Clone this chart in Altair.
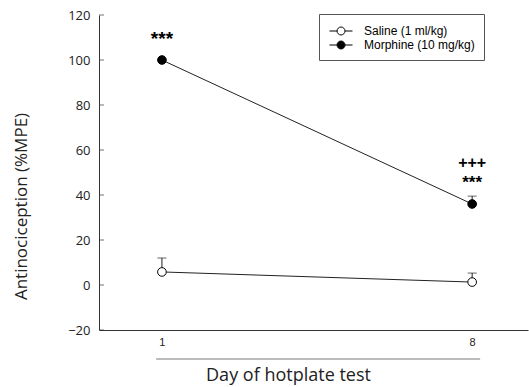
import altair as alt
import pandas as pd

days = [1, 8]
series = ["Saline (1 ml/kg)", "Morphine (10 mg/kg)"]
saline_mean = [5.8, 1.3]
saline_err = [6.2, 4.0]
morphine_mean = [100.0, 36.0]
morphine_err = [0.0, 3.5]
y_ticks = [-20, 0, 20, 40, 60, 80, 100, 120]

ann_day = [1, 8, 8]
ann_base = [100.0, 39.5, 39.5]
ann_text = ["***", "***", "+++"]

rows = []
for d, m, e in zip(days, saline_mean, saline_err):
    rows.append({"day": d, "series": series[0], "mean": m, "top": m + e})
for d, m, e in zip(days, morphine_mean, morphine_err):
    rows.append({"day": d, "series": series[1], "mean": m, "top": m + e})
df = pd.DataFrame(rows)
err_df = df[df["top"] > df["mean"]]

ann = pd.DataFrame({"day": ann_day, "base": ann_base, "text": ann_text})
ticks_df = pd.DataFrame({"v": y_ticks})

W, H = 429, 315
xs = alt.Scale(domain=[-0.42, 9.26], nice=False, zero=False)
ys = alt.Scale(domain=[-20, 120], nice=False, zero=False)

x_enc = alt.X("day:Q", scale=xs, axis=alt.Axis(
    values=days, ticks=False, grid=False, format="d",
    labelFont="Liberation Sans", labelFontSize=11, labelColor="#222",
    labelPadding=6, domainColor="#333", title="Day of hotplate test",
    titleFont="Open Sans", titleFontSize=18, titleFontWeight="normal", titleColor="#222",
    titleX=189, titleY=45, titleBaseline="middle", titleAlign="center"))
y_enc = alt.Y("mean:Q", scale=ys, axis=alt.Axis(
    values=y_ticks, ticks=False, grid=False,
    labelFont="Open Sans", labelFontSize=13, labelColor="#222", labelPadding=9,
    domainColor="#333", title="Antinociception (%MPE)",
    titleFont="Open Sans", titleFontSize=17, titleFontWeight="normal", titleColor="#222",
    titleAngle=270, titleX=-78, titleY=191, titleBaseline="middle", titleAlign="center"))

base = alt.Chart(df)

lines = base.mark_line(color="#222", strokeWidth=1).encode(
    x=x_enc, y=y_enc, detail="series:N")

err_rule = alt.Chart(err_df).mark_rule(color="#222", strokeWidth=1).encode(
    x=alt.X("day:Q", scale=xs), y=alt.Y("mean:Q", scale=ys), y2="top:Q")
err_cap = alt.Chart(err_df).mark_tick(color="#222", orient="horizontal", size=9, thickness=1).encode(
    x=alt.X("day:Q", scale=xs), y=alt.Y("top:Q", scale=ys))

leg_path = ("M-0.87,0H0.14M1.2,0H2.2"
            "M1.2,0A0.53,0.53 0 1,1 0.14,0A0.53,0.53 0 1,1 1.2,0Z")
points = base.mark_point(shape="circle", size=75, stroke="#000", strokeWidth=1, opacity=1, filled=False).encode(
    x=alt.X("day:Q", scale=xs), y=alt.Y("mean:Q", scale=ys),
    fill=alt.Fill("series:N", scale=alt.Scale(domain=series, range=["#ffffff", "#000000"]),
                  legend=alt.Legend(title=None, orient="none", legendX=220, legendY=-1,
                                    symbolType=leg_path, symbolSize=225, symbolStrokeColor="#000",
                                    symbolStrokeWidth=1, symbolOpacity=1,
                                    labelFont="Liberation Sans", labelFontSize=12, labelColor="#000",
                                    labelOffset=20, rowPadding=0, padding=9,
                                    strokeColor="#555", fillColor="#ffffff")))

def ann_layer(i, size, dy):
    return alt.Chart(ann.iloc[[i]]).mark_text(
        font="Liberation Sans", fontSize=size, fontWeight="bold", color="#000",
        baseline="middle", dy=dy
    ).encode(x=alt.X("day:Q", scale=xs), y=alt.Y("base:Q", scale=ys), text="text:N")

stars1 = ann_layer(0, 19, -21)
stars8 = ann_layer(1, 17, -13)
plus8 = ann_layer(2, 16, -33)

ytick = alt.Chart(ticks_df).mark_tick(color="#333", orient="horizontal", size=5, thickness=1).encode(
    x=alt.value(2.5), y=alt.Y("v:Q", scale=ys))

underline = alt.Chart(pd.DataFrame({"a": [0]})).mark_rule(color="#777", strokeWidth=1, clip=False).encode(
    x=alt.datum(days[0] - 0.13, scale=xs), x2=alt.datum(days[-1] + 0.18), y=alt.value(H + 29))

chart = alt.layer(lines, err_rule, err_cap, points, stars1, stars8, plus8, ytick, underline).properties(
    width=W, height=H,
    autosize=alt.AutoSizeParams(type="none"),
    padding={"left": 99, "top": 15, "right": 1, "bottom": 57},
).configure_view(stroke=None).configure_axis(domainWidth=1)

chart.save("out.html", embed_options={"renderer": "svg", "actions": False})
